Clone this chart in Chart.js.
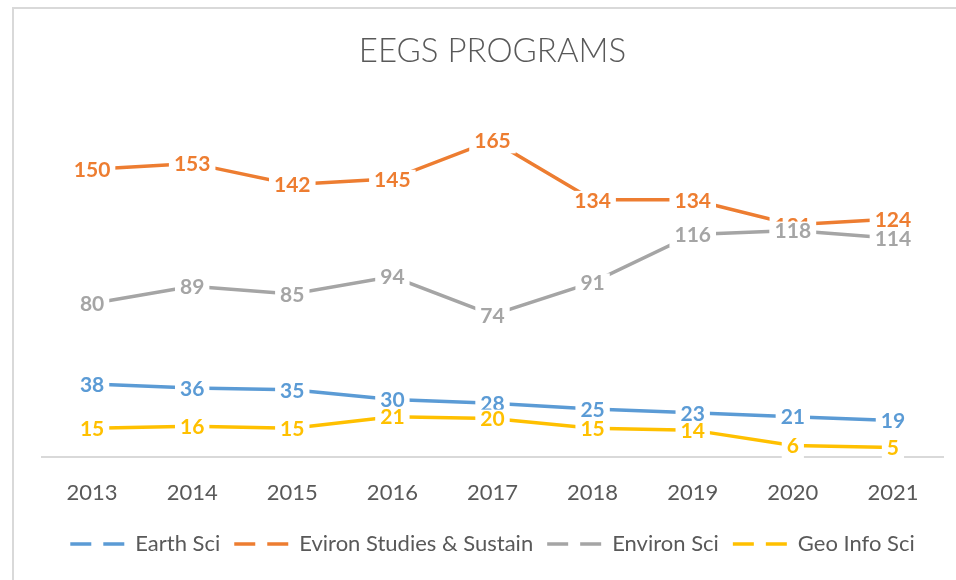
<!DOCTYPE html>
<html lang="en">
<head>
<meta charset="UTF-8" />
<title>EEGS Programs</title>
<script src="https://cdn.jsdelivr.net/npm/chart.js"></script>
<style>
  html, body { margin: 0; padding: 0; background: #fff; overflow: hidden; }
  #wrap { position: relative; width: 956px; height: 580px; }
  #frame { position: absolute; left: 12px; top: 7px; right: -10px; bottom: -10px;
           border-top: 2px solid #d9d9d9; border-left: 2px solid #d9d9d9; }
  #eegsChart { position: relative; }
</style>
</head>
<body>
<div id="wrap">
  <div id="frame"></div>
  <canvas id="eegsChart" width="956" height="580"></canvas>
</div>
<script>
const years = ['2013', '2014', '2015', '2016', '2017', '2018', '2019', '2020', '2021'];
const earthSci = [38, 36, 35, 30, 28, 25, 23, 21, 19];
const evironStudies = [150, 153, 142, 145, 165, 134, 134, 121, 124];
const environSci = [80, 89, 85, 94, 74, 91, 116, 118, 114];
const geoInfoSci = [15, 16, 15, 21, 20, 15, 14, 6, 5];

Chart.defaults.font.family = 'Lato, "Open Sans", sans-serif';
Chart.defaults.color = '#595959';

// Excel-style data labels: white box centred on each point
const valueLabels = {
  id: 'valueLabels',
  afterDatasetsDraw(chart) {
    const ctx = chart.ctx;
    ctx.save();
    ctx.font = 'bold 21px Lato';
    ctx.textAlign = 'center';
    ctx.textBaseline = 'middle';
    chart.data.datasets.forEach((ds, i) => {
      chart.getDatasetMeta(i).data.forEach((pt, j) => {
        const txt = String(ds.data[j]);
        const w = ctx.measureText(txt).width + 10;
        ctx.fillStyle = '#fff';
        ctx.fillRect(pt.x - w / 2, pt.y - 9, w, 22);
        ctx.fillStyle = ds.borderColor;
        ctx.fillText(txt, pt.x, pt.y + 1);
      });
    });
    ctx.restore();
  }
};

function line(label, data, color) {
  return {
    label, data,
    borderColor: color,
    backgroundColor: color,
    borderWidth: 3.5,
    pointRadius: 0,
    tension: 0
  };
}

new Chart(document.getElementById('eegsChart'), {
  type: 'line',
  data: {
    labels: years,
    datasets: [
      line('Earth Sci', earthSci, '#5B9BD5'),
      line('Eviron Studies & Sustain', evironStudies, '#ED7D31'),
      line('Environ Sci', environSci, '#A5A5A5'),
      line('Geo Info Sci', geoInfoSci, '#FFC000')
    ]
  },
  plugins: [valueLabels],
  options: {
    responsive: false,
    animation: false,
    devicePixelRatio: 1,
    layout: { padding: { left: 42, right: 13, top: 0, bottom: 15 } },
    plugins: {
      title: {
        display: true,
        text: 'EEGS PROGRAMS',
        color: '#595959',
        font: { size: 33, weight: '300' },
        padding: { top: 32, bottom: 40 }
      },
      legend: {
        position: 'bottom',
        labels: {
          usePointStyle: true,
          pointStyle: 'line',
          pointStyleWidth: 54,
          color: '#595959',
          font: { size: 22 },
          padding: 14,
          generateLabels(chart) {
            const items = Chart.defaults.plugins.legend.labels.generateLabels(chart);
            items.forEach(it => { it.lineDash = [21, 12]; it.lineWidth = 3.5; });
            return items;
          }
        }
      },
      tooltip: { enabled: false }
    },
    scales: {
      x: {
        offset: true,
        grid: { display: false },
        border: { color: '#d9d9d9', width: 2 },
        ticks: { color: '#595959', font: { size: 22 }, padding: 15 },
        afterFit(scale) { scale.height = 62; }
      },
      y: { display: false, min: 0, max: 180 }
    }
  }
});
</script>
</body>
</html>
